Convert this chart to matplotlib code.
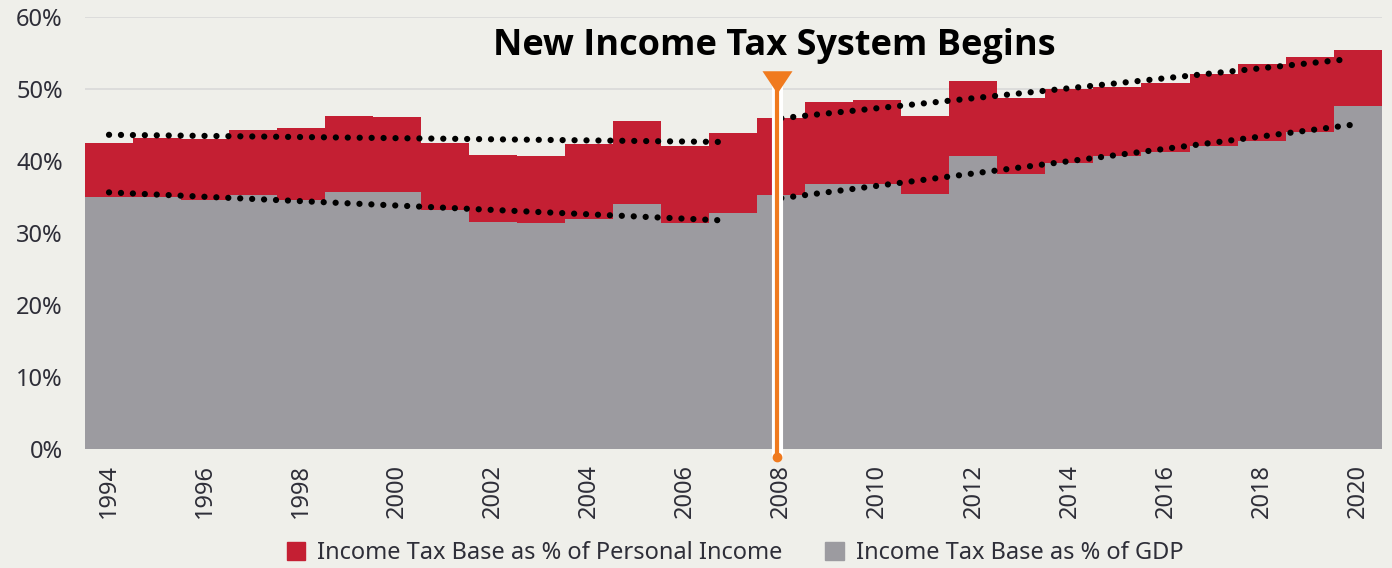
import numpy as np
import matplotlib
matplotlib.use("Agg")
from matplotlib import pyplot as plt
from matplotlib.patches import Patch
import matplotlib.patheffects as pe
import matplotlib.transforms as mtransforms

years = list(range(1994, 2021))
personal_income = [42.4, 43.2, 43.0, 44.2, 44.6, 46.2, 46.1, 42.4, 40.8, 40.7, 42.3, 45.5, 42.1,
                   43.8, 45.9, 48.2, 48.4, 46.2, 51.1, 48.7, 49.9, 50.2, 50.8, 52.1, 53.4, 54.4, 55.4]
gdp = [35.0, 34.9, 34.6, 35.2, 34.5, 35.7, 35.7, 33.1, 31.5, 31.4, 31.9, 34.0, 31.3,
       32.8, 35.3, 36.7, 36.8, 35.4, 40.6, 38.2, 39.7, 40.6, 41.2, 42.0, 42.8, 44.0, 47.6]

# dotted trend lines: (x start, x end), (y start, y end)
trend_pi_before = ([1994.0, 2006.8], [43.6, 42.6])
trend_gdp_before = ([1994.0, 2006.8], [35.6, 31.7])
trend_pi_after = ([2008.0, 2019.8], [45.9, 54.1])
trend_gdp_after = ([2008.0, 2019.9], [34.8, 45.0])

new_system_year = 2007.9
tick_years = list(range(1994, 2021, 2))
y_ticks = [0, 10, 20, 30, 40, 50, 60]

RED = "#c41f33"
GREY = "#9c9ba0"
ORANGE = "#f07a1e"
BG = "#efefea"
TXT = "#2e2e38"

plt.rcParams["font.family"] = ["Noto Sans", "DejaVu Sans"]

fig = plt.figure(figsize=(13.92, 5.68), dpi=100, facecolor=BG)
ax = fig.add_axes([85 / 1392, 119.3 / 568, (1381.6 - 85) / 1392, (448.7 - 16.7) / 568])
ax.set_facecolor(BG)

edges = np.arange(years[0] - 0.5, years[-1] + 1.0, 1.0)
ax.fill_between(edges, np.append(personal_income, personal_income[-1]), step="post",
                color=RED, lw=0, zorder=2)
ax.fill_between(edges, np.append(gdp, gdp[-1]), step="post", color=GREY, lw=0, zorder=3)

for tx, ty in [trend_pi_before, trend_gdp_before, trend_pi_after, trend_gdp_after]:
    ax.plot(tx, ty, color="black", lw=4.5, dashes=(0.01, 1.9), dash_capstyle="round", zorder=4)

# new tax system marker
ax.plot([new_system_year, new_system_year], [-1.15, 50.5], color=ORANGE, lw=3, zorder=5,
        clip_on=False, solid_capstyle="butt",
        path_effects=[pe.Stroke(linewidth=8, foreground="white"), pe.Normal()])
ax.plot(new_system_year, -1.15, marker="o", ms=6, color=ORANGE, zorder=6, clip_on=False)
tri = [(-1, 0.75), (1, 0.75), (0, -0.75), (-1, 0.75)]
ax.plot(new_system_year, 50.96, marker=tri, ms=21.6, color=ORANGE, mew=0, zorder=6, clip_on=False)
ax.text(new_system_year - 0.05, 55.9, "New Income Tax System Begins", ha="center", va="center",
        fontsize=26, fontweight="bold", family=["Open Sans", "DejaVu Sans"], color="black",
        zorder=7)

ax.set_xlim(years[0] - 0.5, years[-1] + 0.5)
ax.set_ylim(0, 60)
ax.set_yticks(y_ticks)
ax.set_yticklabels([f"{v}%" for v in y_ticks], fontsize=17, color=TXT)
ax.set_xticks(tick_years)
ax.set_xticklabels([str(y) for y in tick_years], rotation=90, fontsize=17, color=TXT)
offset = mtransforms.ScaledTranslation(7 / 100, 0, fig.dpi_scale_trans)
for lab in ax.get_xticklabels():
    lab.set_transform(lab.get_transform() + offset)
ax.tick_params(axis="both", length=0)
ax.tick_params(axis="y", pad=16)
ax.tick_params(axis="x", pad=11)
for s in ax.spines.values():
    s.set_visible(False)
ax.yaxis.grid(True, color="#d9d9d9", lw=1.2)
ax.set_axisbelow(True)

handles = [Patch(color=RED, label="Income Tax Base as % of Personal Income"),
           Patch(color=GREY, label="Income Tax Base as % of GDP")]
fig.legend(handles=handles, loc="lower center", bbox_to_anchor=(0.528, -0.033), ncol=2,
           frameon=False, fontsize=17, handlelength=0.8, handleheight=0.8,
           handletextpad=0.5, columnspacing=1.8, labelcolor=TXT)

fig.savefig("out.png", dpi=100, facecolor=BG)
